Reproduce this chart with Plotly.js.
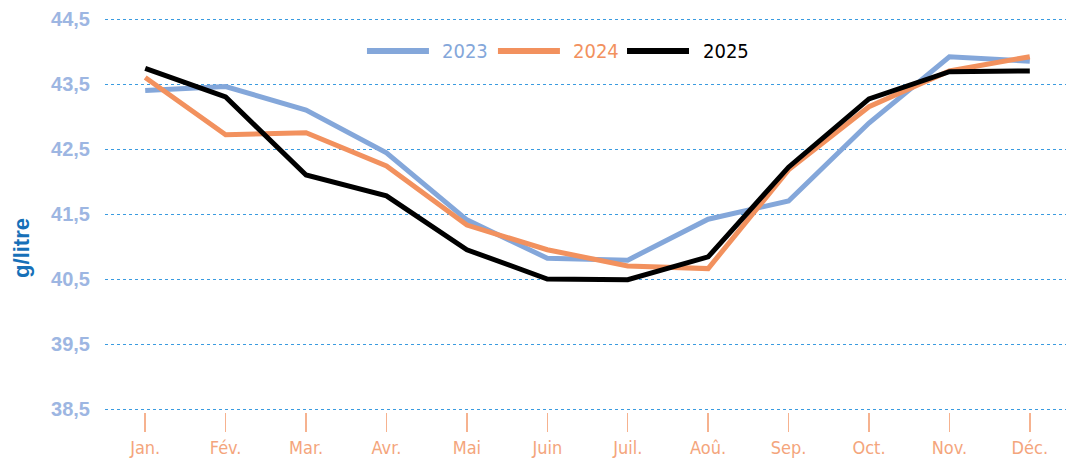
<!DOCTYPE html>
<html>
<head>
<meta charset="utf-8">
<script src="https://cdn.plot.ly/plotly-3.0.1.min.js"></script>
<style>
  html, body { margin: 0; padding: 0; background: #fff; }
  #chart { width: 1066px; height: 458px; }
</style>
</head>
<body>
<div id="chart"></div>
<script>
// monthly values, g/litre
const months = ['Jan.', 'Fév.', 'Mar.', 'Avr.', 'Mai', 'Juin', 'Juil.', 'Aoû.', 'Sep.', 'Oct.', 'Nov.', 'Déc.'];
const years = ['2023', '2024', '2025'];
const values2023 = [43.40, 43.46, 43.10, 42.44, 41.41, 40.82, 40.79, 41.42, 41.70, 42.90, 43.92, 43.85];
const values2024 = [43.60, 42.72, 42.75, 42.24, 41.33, 40.95, 40.70, 40.66, 42.18, 43.15, 43.70, 43.92];
const values2025 = [43.74, 43.30, 42.10, 41.78, 40.95, 40.50, 40.49, 40.84, 42.22, 43.27, 43.69, 43.70];
const yTicks = [38.5, 39.5, 40.5, 41.5, 42.5, 43.5, 44.5];

const narrowFont = 'DejaVu Sans Condensed, Liberation Sans Narrow, Arial Narrow, sans-serif';

const colors = {
    y2023: '#84a7da',
    y2024: '#f2915e',
    y2025: '#000000',
    grid: '#3a9be0',
    yLabel: '#9db6e2',
    xLabel: '#f4a57c',
    title: '#1670b8'
};
const seriesColors = [colors.y2023, colors.y2024, colors.y2025];
const seriesValues = [values2023, values2024, values2025];

const traces = years.map((year, i) => ({
    x: months,
    y: seriesValues[i],
    type: 'scatter',
    mode: 'lines',
    name: year,
    line: { color: seriesColors[i], width: 5 },
    showlegend: false,
    cliponaxis: false
}));

// hand-made legend so the line samples are as long as in the original
// (plot area is now 396px tall, starting at y=16)
const toPaperY = py => (412 - py) / 396;
const legendX = [0.2726, 0.4089, 0.5432];
const legendY = toPaperY(51);
const shapes = years.map((year, i) => ({
    type: 'line',
    xref: 'paper', yref: 'paper',
    x0: legendX[i], x1: legendX[i] + 0.0645,
    y0: legendY, y1: legendY,
    line: { color: seriesColors[i], width: 6 }
}));
const annotations = years.map((year, i) => ({
    xref: 'paper', yref: 'paper',
    x: legendX[i] + 0.0765, y: legendY,
    xanchor: 'left', yanchor: 'middle',
    text: year,
    showarrow: false,
    font: { family: narrowFont, size: 20, color: seriesColors[i] }
}));
annotations.push({
    xref: 'paper', yref: 'paper',
    x: -0.0875, y: toPaperY(248),
    xanchor: 'center', yanchor: 'middle',
    textangle: -90,
    text: '<b>g/litre</b>',
    showarrow: false,
    font: { family: 'Liberation Sans, Arial, sans-serif', size: 22, color: colors.title }
});

const layout = {
    width: 1066,
    height: 458,
    margin: { t: 16, r: 0, b: 46, l: 105 },
    paper_bgcolor: 'white',
    plot_bgcolor: 'white',
    showlegend: false,
    xaxis: {
        type: 'category',
        range: [-0.5, 11.45],
        showgrid: false,
        zeroline: false,
        showline: false,
        ticks: 'outside',
        ticklen: 19,
        tickwidth: 1.5,
        tickcolor: '#f6b28f',
        tickfont: { family: narrowFont, size: 18, color: colors.xLabel }
    },
    yaxis: {
        range: [38.5 - 3 / 65, 44.5 + 3 / 65],
        tickvals: yTicks,
        ticktext: yTicks.map(v => v.toFixed(1).replace('.', ',')),
        showgrid: true,
        gridcolor: colors.grid,
        griddash: 'dot',
        gridwidth: 1,
        zeroline: false,
        showline: false,
        ticks: '',
        ticklabelstandoff: 14,
        tickfont: { family: 'Liberation Sans, Arial, sans-serif', size: 20, color: colors.yLabel, weight: 'bold' }
    },
    shapes: shapes,
    annotations: annotations
};

try {
    Plotly.newPlot('chart', traces, layout, { displayModeBar: false, staticPlot: true });
} catch (error) {
    console.error('Error drawing chart:', error);
}
</script>
</body>
</html>
